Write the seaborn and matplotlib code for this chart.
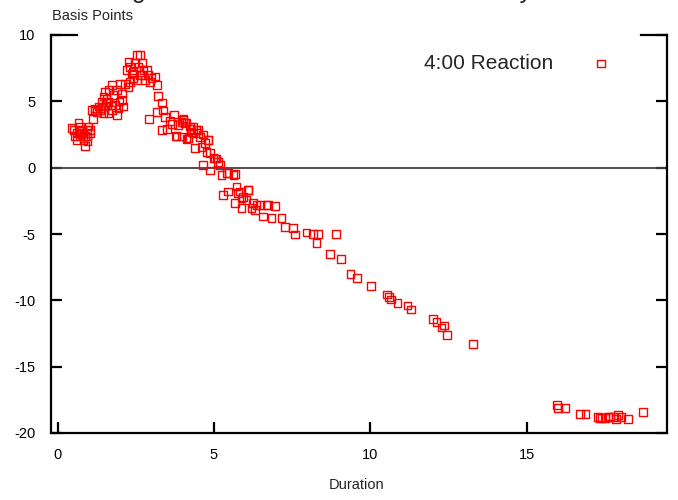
import matplotlib
matplotlib.use("Agg")
import matplotlib.pyplot as plt
import seaborn as sns
import numpy as np
import pandas as pd

# ---- data ----
duration = [
    # early cluster
    0.45, 0.50, 0.55, 0.61, 0.66, 0.71, 0.71, 0.77, 0.82, 0.82, 0.87, 0.93, 0.93, 0.98, 1.03, 1.03,
    0.60, 0.68, 0.75, 0.88, 0.95,
    # rise
    1.12, 1.09, 1.19, 1.25,
    # second cluster
    1.30, 1.41, 1.46, 1.51, 1.62, 1.73, 2.00, 1.89, 1.78, 1.62, 1.51, 1.35, 1.62, 1.89, 1.94,
    2.10, 2.05, 1.83, 1.73, 1.46, 2.05, 1.40, 1.56, 1.70, 1.98, 1.20, 1.55,
    # peak
    2.26, 2.31, 2.20, 2.37, 2.53, 2.63, 2.47, 2.58, 2.69, 2.74, 2.63, 2.42, 2.31, 2.90, 3.00,
    3.11, 2.95, 2.79, 3.17, 2.26, 2.53, 2.85, 2.15, 2.40, 2.70,
    # descent
    3.21, 3.33, 3.37, 3.17, 2.93, 3.43, 3.72, 3.33, 3.49, 3.78, 4.00, 4.12, 4.33, 4.44, 4.12,
    4.39, 4.65, 4.80, 4.65, 4.87, 5.08, 5.24, 5.40, 5.67,
    3.59, 3.96, 4.17, 4.28, 4.49, 4.76, 5.03, 5.13, 4.02, 4.07, 4.23, 4.34, 4.50, 4.82, 3.80,
    3.97, 4.18, 4.60, 4.71, 4.87, 4.98, 5.19, 5.46, 5.62, 3.85, 3.65, 4.25, 4.55,
    5.72, 5.77, 5.29, 5.45, 6.09, 5.93, 6.04, 5.67, 5.88, 6.25, 6.36, 6.68, 6.95, 6.31,
    5.83, 6.10, 5.88, 6.20, 6.47, 6.73,
    6.57, 6.84, 7.16, 7.27, 7.52, 7.59, 7.96, 8.17, 8.33, 8.28, 8.90,
    8.71, 9.06, 9.37, 9.58, 10.02, 10.54, 10.60, 10.67, 10.87, 11.19, 11.30,
    12.01, 12.12, 12.36, 12.28, 12.46, 13.29,
    15.98, 16.00, 16.22, 16.70, 16.88, 17.29, 17.40, 17.50, 17.66, 17.77, 17.86, 17.93, 18.04,
    18.25, 18.73, 17.35, 17.60,
]
basis_points = [
    2.97, 2.84, 2.34, 2.60, 3.35, 2.34, 3.10, 2.84, 2.09, 2.60, 1.64, 2.34, 2.84, 3.10, 2.84, 2.60,
    2.10, 2.75, 2.50, 2.40, 2.00,
    3.65, 4.35, 4.47, 4.20,
    4.60, 4.97, 5.35, 5.73, 5.85, 6.23, 6.30, 5.85, 5.48, 4.97, 4.60, 4.35, 4.10, 3.97, 4.47,
    4.60, 5.10, 4.72, 4.35, 4.10, 5.60, 4.50, 5.20, 4.70, 5.00, 4.30, 4.90,
    8.00, 7.60, 7.36, 7.10, 8.50, 8.50, 7.87, 7.60, 7.87, 7.36, 6.98, 6.74, 6.48, 6.98, 6.74,
    6.86, 6.48, 6.60, 6.23, 6.10, 6.60, 7.36, 6.30, 7.20, 7.00,
    5.40, 4.90, 4.30, 4.20, 3.65, 3.80, 4.00, 2.85, 2.90, 2.40, 3.60, 3.40, 3.10, 2.85, 2.15,
    1.50, 2.50, 2.10, 0.20, -0.20, 0.70, -0.55, -0.40, -0.50,
    3.50, 3.45, 2.20, 2.70, 2.85, 1.20, 0.70, 0.45, 3.72, 3.35, 3.10, 2.60, 2.60, 2.09, 2.34,
    2.34, 2.22, 1.58, 1.84, 1.09, 0.71, 0.20, -0.42, -0.55, 3.20, 3.30, 2.90, 2.30,
    -1.43, -1.90, -2.06, -1.81, -1.68, -2.20, -2.43, -2.68, -3.06, -2.65, -2.80, -2.81, -2.90, -3.20,
    -1.81, -1.68, -2.31, -3.06, -2.81, -2.81,
    -3.69, -3.80, -3.80, -4.45, -4.55, -5.05, -4.90, -5.00, -5.00, -5.70, -5.00,
    -6.50, -6.90, -8.00, -8.30, -8.90, -9.55, -9.75, -9.95, -10.20, -10.40, -10.70,
    -11.40, -11.65, -11.90, -12.05, -12.60, -13.30,
    -17.90, -18.10, -18.10, -18.55, -18.55, -18.80, -18.85, -18.85, -18.75, -18.80, -18.95, -18.65, -18.80,
    -18.95, -18.40, -18.85, -18.80,
]
series_label = "4:00 Reaction"
x_ticks = [0, 5, 10, 15]
y_ticks = [-20, -15, -10, -5, 0, 5, 10]
title_text = "Change in Yields vs. Duration of Treasury Indices"
x_label = "Duration"
y_label = "Basis Points"

df = pd.DataFrame({"Duration": duration, "Basis Points": basis_points})

sns.set_style("white")
plt.rcParams["font.family"] = ["Liberation Sans", "DejaVu Sans"]
plt.rcParams["axes.unicode_minus"] = False

W, H = 678, 500
fig = plt.figure(figsize=(W / 100, H / 100), dpi=100)
ax = fig.add_axes([50.5 / W, (H - 433) / H, (666.7 - 50.5) / W, (433 - 35) / H])

ax.axhline(0, color="#404040", lw=1.3, zorder=1)

sns.scatterplot(data=df, x="Duration", y="Basis Points", ax=ax, marker="s", s=30,
                facecolor="none", edgecolor="#ff0000", linewidth=1.0,
                label=series_label, zorder=3)

ax.set_xlim(-0.23, 19.48)
ax.set_ylim(-20, 10)
ax.set_xticks(x_ticks)
ax.set_yticks(y_ticks)
ax.set_xlabel("")
ax.set_ylabel("")

for side in ["left", "bottom", "right"]:
    ax.spines[side].set_visible(True)
    ax.spines[side].set_linewidth(1.6)
    ax.spines[side].set_color("black")
ax.spines["top"].set_visible(False)

ax.tick_params(axis="both", direction="in", length=8, width=1.6, colors="black",
               labelsize=10.5, pad=11)
ax.tick_params(axis="y", right=True, left=True)
ax.tick_params(axis="x", top=False, bottom=True)

# corner pieces of the top border
ax.plot([0, 26 / 616.2], [1, 1], transform=ax.transAxes, color="black", lw=1.6,
        clip_on=False, solid_capstyle="projecting")
ax.plot([1 - 26 / 616.2, 1], [1, 1], transform=ax.transAxes, color="black", lw=1.6,
        clip_on=False, solid_capstyle="projecting")

leg = ax.legend(loc="center right", bbox_to_anchor=(0.9103, 0.928), frameon=False,
                markerfirst=False, fontsize=15, handlelength=1.0, handletextpad=1.8,
                borderaxespad=0, borderpad=0)

fig.text(357 / W, 1 - 485 / H, x_label, ha="center", va="center", fontsize=10.5)
fig.text(51.5 / W, 1 - 16 / H, y_label, ha="left", va="center", fontsize=10.5)
# title sits mostly above the canvas, as in the reference (only its lower edge shows)
fig.text(345 / W, 1 + 2.0 / H, title_text, ha="center", va="baseline", fontsize=18)

fig.savefig("out.png", dpi=100)
